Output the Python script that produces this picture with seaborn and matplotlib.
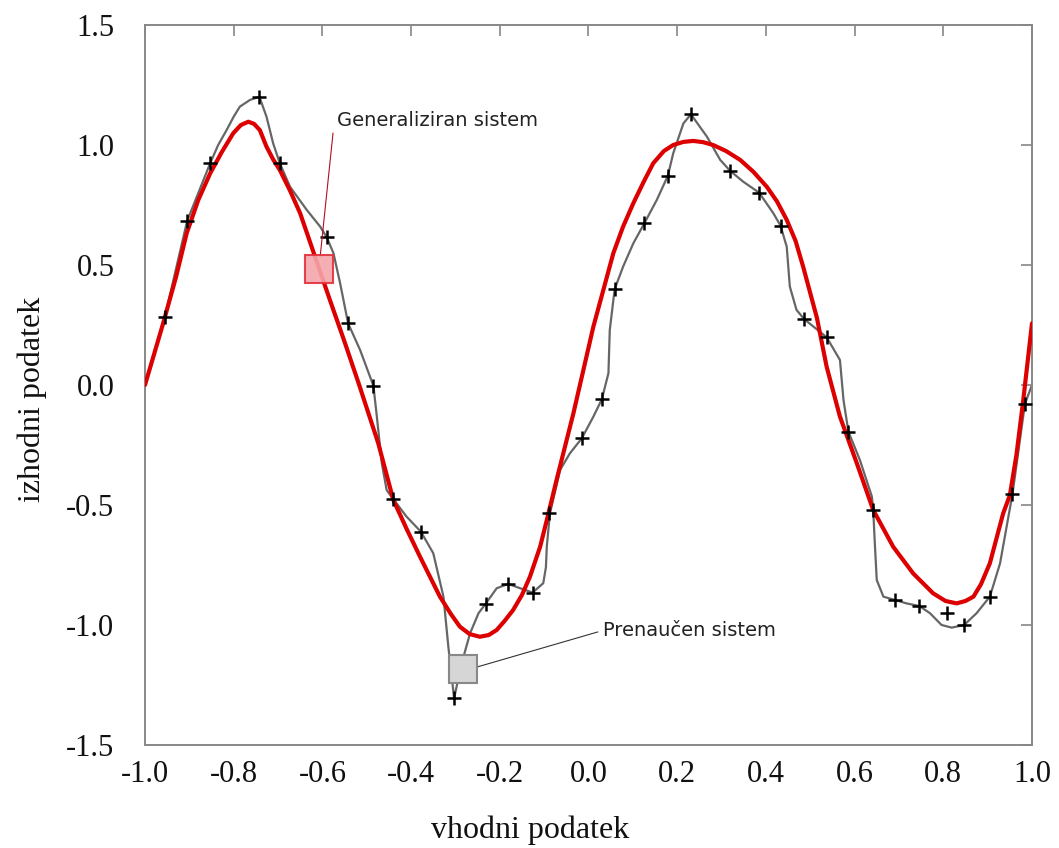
import matplotlib
matplotlib.use("Agg")
import matplotlib.pyplot as plt
import numpy as np
import pandas as pd
import seaborn as sns


# ucni podatki (oznake +)
train_x = [-0.955, -0.905, -0.853, -0.742, -0.696, -0.590, -0.542, -0.485,
           -0.440, -0.378, -0.303, -0.232, -0.181, -0.126, -0.090,
           -0.015, 0.030, 0.059, 0.126, 0.179, 0.231, 0.319, 0.385, 0.433,
           0.486, 0.537, 0.586, 0.642, 0.691, 0.746, 0.809, 0.847, 0.905,
           0.956, 0.984]
train_y = [0.285, 0.683, 0.924, 1.201, 0.924, 0.615, 0.257, -0.003,
           -0.476, -0.611, -1.305, -0.912, -0.829, -0.865, -0.535,
           -0.222, -0.060, 0.399, 0.674, 0.872, 1.128, 0.893, 0.801, 0.664,
           0.275, 0.199, -0.194, -0.521, -0.896, -0.921, -0.949, -1.000, -0.882,
           -0.454, -0.079]

# prenaucen sistem (siva krivulja)
over_x = [-1.000, -0.955, -0.905, -0.853, -0.835, -0.816, -0.800, -0.786,
          -0.763, -0.742, -0.726, -0.711, -0.696, -0.673, -0.635, -0.605,
          -0.590, -0.575, -0.560, -0.542, -0.515, -0.485, -0.478, -0.466,
          -0.455, -0.440, -0.410, -0.378, -0.350, -0.327, -0.316, -0.303,
          -0.286, -0.267, -0.248, -0.232, -0.207, -0.181, -0.154, -0.126,
          -0.102, -0.096, -0.094, -0.087, -0.064, -0.042, -0.015, 0.011,
          0.030, 0.045, 0.048, 0.059, 0.078, 0.101, 0.126, 0.154, 0.179,
          0.191, 0.214, 0.231, 0.267, 0.297, 0.319, 0.349, 0.385, 0.417,
          0.433, 0.447, 0.454, 0.469, 0.486, 0.537, 0.567, 0.575, 0.586,
          0.612, 0.639, 0.642, 0.646, 0.650, 0.665, 0.691, 0.717, 0.746,
          0.770, 0.796, 0.819, 0.847, 0.875, 0.905, 0.928, 0.956, 0.984,
          1.000]
over_y = [0.000, 0.285, 0.683, 0.924, 1.000, 1.062, 1.118, 1.160,
          1.188, 1.201, 1.118, 1.007, 0.924, 0.826, 0.729, 0.660,
          0.615, 0.549, 0.424, 0.257, 0.146, -0.003, -0.118, -0.326,
          -0.438, -0.476, -0.549, -0.611, -0.701, -0.882, -1.090, -1.305,
          -1.160, -1.035, -0.951, -0.912, -0.847, -0.829, -0.847, -0.865,
          -0.826, -0.760, -0.674, -0.535, -0.354, -0.285, -0.222, -0.132,
          -0.060, 0.049, 0.229, 0.399, 0.493, 0.590, 0.674, 0.771, 0.872,
          0.965, 1.090, 1.128, 1.035, 0.938, 0.893, 0.847, 0.801, 0.715,
          0.664, 0.576, 0.410, 0.313, 0.275, 0.199, 0.104, -0.063, -0.194,
          -0.313, -0.465, -0.521, -0.674, -0.813, -0.882, -0.896, -0.910, -0.921,
          -0.951, -1.000, -1.011, -1.000, -0.951, -0.882, -0.743, -0.454, -0.079,
          0.000]

# generaliziran sistem (rdeca krivulja)
gen_x = [-1.000, -0.980, -0.959, -0.930, -0.906, -0.880, -0.853, -0.827,
         -0.801, -0.784, -0.767, -0.754, -0.741, -0.726, -0.711, -0.696,
         -0.673, -0.650, -0.607, -0.583, -0.550, -0.517, -0.474, -0.440,
         -0.410, -0.380, -0.335, -0.310, -0.290, -0.268, -0.245, -0.225,
         -0.207, -0.190, -0.170, -0.150, -0.132, -0.109, -0.094, -0.072,
         -0.034, 0.011, 0.056, 0.078, 0.101, 0.124, 0.146, 0.170, 0.191,
         0.214, 0.236, 0.258, 0.281, 0.310, 0.342, 0.372, 0.402, 0.425,
         0.447, 0.467, 0.484, 0.515, 0.537, 0.567, 0.605, 0.642, 0.687,
         0.732, 0.777, 0.805, 0.830, 0.850, 0.868, 0.885, 0.905, 0.935,
         0.950, 0.965, 0.980, 1.000]
gen_y = [0.000, 0.125, 0.257, 0.450, 0.632, 0.770, 0.882, 0.970,
         1.049, 1.083, 1.097, 1.088, 1.062, 0.993, 0.940, 0.896,
         0.810, 0.715, 0.483, 0.354, 0.180, 0.000, -0.243, -0.479,
         -0.600, -0.715, -0.882, -0.955, -1.007, -1.038, -1.049, -1.042,
         -1.021, -0.985, -0.938, -0.875, -0.799, -0.674, -0.563, -0.396,
         -0.118, 0.243, 0.549, 0.660, 0.757, 0.845, 0.924, 0.975, 1.000,
         1.013, 1.017, 1.012, 1.000, 0.975, 0.938, 0.888, 0.826, 0.765,
         0.688, 0.600, 0.493, 0.280, 0.076, -0.132, -0.326, -0.521, -0.674,
         -0.785, -0.868, -0.900, -0.910, -0.900, -0.882, -0.830, -0.743, -0.535,
         -0.460, -0.290, -0.068, 0.257]

x_ticks = [-1.0, -0.8, -0.6, -0.4, -0.2, 0.0, 0.2, 0.4, 0.6, 0.8, 1.0]
y_ticks = [-1.5, -1.0, -0.5, 0.0, 0.5, 1.0, 1.5]

GEN_LABEL = "Generaliziran sistem"
OVER_LABEL = "Prenaučen sistem"

# polozaji kvadratkov, crt in besedil za oznake
GEN_BOX = (-0.607, 0.483)
GEN_LINE = ([-0.605, -0.576], [0.535, 1.05])
GEN_TEXT = (-0.567, 1.104)
OVER_BOX = (-0.283, -1.183)
OVER_LINE = ([-0.251, 0.021], [-1.175, -1.029])
OVER_TEXT = (0.033, -1.021)


def main() -> None:
    sns.set_theme(style="white")
    plt.rcParams["font.family"] = ["Liberation Serif", "DejaVu Serif"]

    over_df = pd.DataFrame({"x": over_x, "y": over_y})
    gen_df = pd.DataFrame({"x": gen_x, "y": gen_y})
    train_df = pd.DataFrame({"x": train_x, "y": train_y})

    fig = plt.figure(figsize=(10.59, 8.48), dpi=100)
    ax = fig.add_axes([0.1369, 0.1215, 0.8376, 0.849])

    sns.lineplot(data=over_df, x="x", y="y", sort=False, estimator=None,
                 color="#666666", linewidth=1.6, ax=ax, zorder=2)
    sns.lineplot(data=gen_df, x="x", y="y", sort=False, estimator=None,
                 color="#dd0000", linewidth=3.0, ax=ax, zorder=3)
    sns.scatterplot(data=train_df, x="x", y="y", marker="+", s=110,
                    color="black", linewidth=1.8, ax=ax, zorder=4)

    # oznaka generaliziranega sistema
    ax.plot(*GEN_LINE, color="#b01020", linewidth=0.8, zorder=5)
    ax.plot(*GEN_BOX, marker="s", markersize=20, markerfacecolor="#f6a5ad",
            markeredgecolor="#e0303a", markeredgewidth=1.5, alpha=0.9,
            zorder=5)
    ax.text(GEN_TEXT[0], GEN_TEXT[1], GEN_LABEL, family="DejaVu Sans",
            fontsize=14, color="#222222", va="center", ha="left")

    # oznaka prenaucenega sistema
    ax.plot(*OVER_LINE, color="#333333", linewidth=0.8, zorder=5)
    ax.plot(*OVER_BOX, marker="s", markersize=20, markerfacecolor="#d6d6d6",
            markeredgecolor="#888888", markeredgewidth=1.5, zorder=5)
    ax.text(OVER_TEXT[0], OVER_TEXT[1], OVER_LABEL, family="DejaVu Sans",
            fontsize=14, color="#222222", va="center", ha="left")

    ax.set_xlim(-1.0, 1.0)
    ax.set_ylim(-1.5, 1.5)
    ax.set_xticks(x_ticks)
    ax.set_yticks(y_ticks)
    ax.set_xticklabels([f"{v:.1f}" for v in x_ticks])
    ax.set_yticklabels([f"{v:.1f}" for v in y_ticks])
    ax.tick_params(direction="in", length=8, width=1.2, color="#888888",
                   top=True, right=True, labelsize=22, labelcolor="#111111")
    ax.tick_params(axis="x", pad=11)
    ax.tick_params(axis="y", pad=22)
    for spine in ax.spines.values():
        spine.set_color("#888888")
        spine.set_linewidth(1.4)

    ax.set_xlabel("vhodni podatek", fontsize=23, color="#111111")
    ax.set_ylabel("izhodni podatek", fontsize=23, color="#111111")
    ax.xaxis.set_label_coords(0.434, -0.118)
    ax.xaxis.label.set_va("center")
    ax.yaxis.set_label_coords(-0.127, 0.48)
    ax.yaxis.label.set_va("center")

    fig.savefig("out.png", dpi=100)
    plt.close(fig)


if __name__ == "__main__":
    main()
